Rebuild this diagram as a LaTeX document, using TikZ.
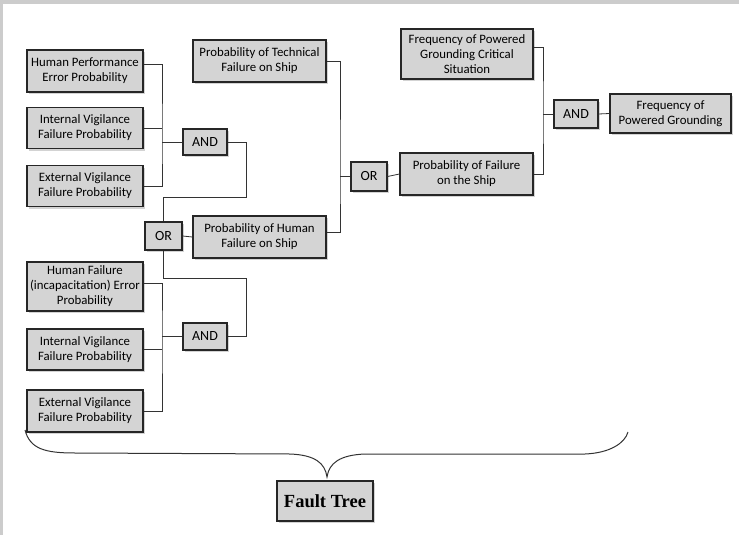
\documentclass[tikz,border=0pt]{standalone}
\usepackage{fontspec}
\setmainfont{Carlito}
\newfontfamily\titlefont{Liberation Serif}
\usetikzlibrary{shadows}

\tikzset{
  box/.style={draw=black!85, line width=1.1pt, fill=black!17, align=center,
    inner sep=1pt, font=\fontsize{12.8}{15}\selectfont,
    drop shadow={opacity=0.35, shadow xshift=2pt, shadow yshift=-2pt}},
  gate/.style={box, font=\fontsize{14}{16}\selectfont, minimum width=44pt, minimum height=26pt},
  wire/.style={draw=black!80, line width=0.8pt}
}

\begin{document}
\begin{tikzpicture}[x=1pt, y=-1pt]
  \useasboundingbox (0,0) rectangle (739,535);
  % scanned page edge
  \fill[black!20] (0,0) rectangle (739,4);
  \fill[black!20] (0,0) rectangle (3,535);

  % upper AND group
  \node[box, minimum width=116pt, minimum height=42pt] (hpe) at (85,71) {Human Performance\\Error Probability};
  \node[box, minimum width=116pt, minimum height=41pt] (ivfa) at (85,128) {Internal Vigilance\\Failure Probability};
  \node[box, minimum width=116pt, minimum height=41pt] (evfa) at (85,186) {External Vigilance\\Failure Probability};
  \node[gate] (anda) at (205,142) {AND};

  % human failure
  \node[gate, minimum width=37pt, minimum height=28pt] (ora) at (163.5,236) {OR};
  \node[box, minimum width=133pt, minimum height=42pt] (phf) at (259.5,237) {Probability of Human\\Failure on Ship};
  \node[box, minimum width=133pt, minimum height=42pt] (ptf) at (259.5,61) {Probability of Technical\\Failure on Ship};

  % lower AND group
  \node[box, minimum width=116pt, minimum height=49pt] (hfi) at (85,286.5) {Human Failure\\(incapacitation) Error\\Probability};
  \node[box, minimum width=116pt, minimum height=41pt] (ivfb) at (85,349.5) {Internal Vigilance\\Failure Probability};
  \node[box, minimum width=116pt, minimum height=42pt] (evfb) at (85,411) {External Vigilance\\Failure Probability};
  \node[gate, minimum height=27pt] (andb) at (205,336.5) {AND};

  % ship failure and top event
  \node[gate, minimum width=36pt, minimum height=29pt] (orb) at (369,176.5) {OR};
  \node[box, minimum width=133pt, minimum height=42pt] (pfs) at (466.5,174) {Probability of Failure\\on the Ship};
  \node[box, minimum width=132pt, minimum height=50pt] (fpgcs) at (467,54) {Frequency of Powered\\Grounding Critical\\Situation};
  \node[gate, minimum height=28pt] (andc) at (576,114) {AND};
  \node[box, minimum width=121pt, minimum height=39pt] (fpg) at (670.5,113.5) {Frequency of\\Powered Grounding};

  \node[box, font=\titlefont\bfseries\fontsize{18.5}{21}\selectfont, minimum width=96pt, minimum height=40pt] (ft) at (325,501) {Fault Tree};

  % bus lines
  \coordinate (busa) at (162,0);
  \coordinate (busb) at (340,0);
  \coordinate (busc) at (543,0);
  \coordinate (ja) at (246,197);
  \coordinate (jb) at (246,278);

  \draw[wire] ([yshift=7pt]hpe.east) -| (busa |- anda.west) |- (evfa.east);
  \draw[wire] (ivfa.east) -- (busa |- ivfa.east);
  \draw[wire] (busa |- anda.west) -- (anda.west);

  \draw[wire] ([yshift=3pt]hfi.east) -| (busa |- andb.west) |- (evfb.east);
  \draw[wire] (ivfb.east) -- (busa |- ivfb.east);
  \draw[wire] (busa |- andb.west) -- (andb.west);

  \draw[wire] (anda.east) -| (ja) -| (ora.north);
  \draw[wire] (andb.east) -| (jb) -| (ora.south);
  \draw[wire] (ora.east) -- (phf.west);

  \draw[wire] (ptf.east) -| (busb |- orb.west) |- ([yshift=5pt]phf.east);
  \draw[wire] (busb |- orb.west) -- (orb.west);
  \draw[wire] (orb.east) -- (pfs.west);

  \draw[wire] ([yshift=7pt]fpgcs.east) -| (busc |- andc.west) |- (pfs.east);
  \draw[wire] (busc |- andc.west) -- (andc.west);
  \draw[wire] (andc.east) -- (fpg.west);

  % brace over the whole tree
  \draw[wire, line width=1pt] (25,430) .. controls (30,449) and (45,453) .. (75,453)
    -- (290,454) .. controls (315,455) and (325,463) .. (327,477)
    .. controls (329,463) and (340,455) .. (365,454)
    -- (585,454) .. controls (610,453) and (625,443) .. (628,432);
\end{tikzpicture}
\end{document}
